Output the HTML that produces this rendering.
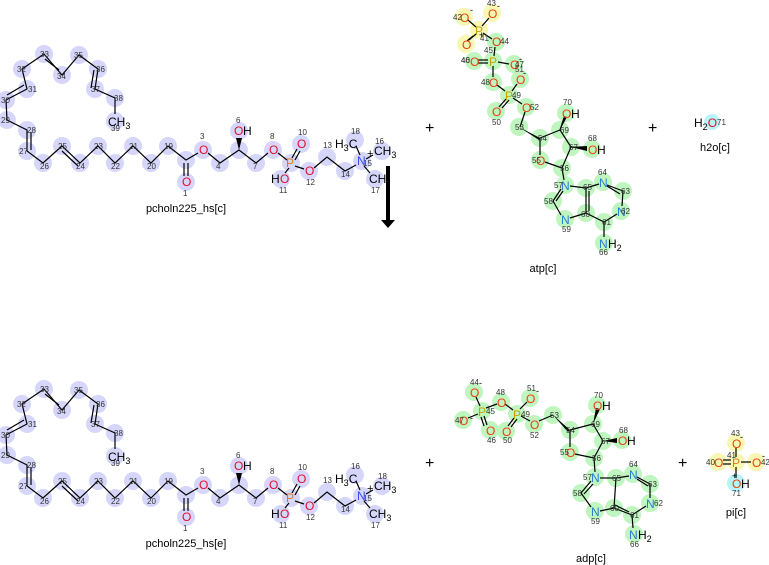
<!DOCTYPE html>
<html><head><meta charset="utf-8"><style>
html,body{margin:0;padding:0;background:#fff;width:769px;height:565px;overflow:hidden}
svg{display:block;font-family:"Liberation Sans","DejaVu Sans",sans-serif}
.n{font-size:8px;fill:#333}
.e{font-size:12px}
.O{fill:#e0102a}.Ob{fill:#e84010}.N{fill:#3050f8}.Nb{fill:#2a7fd0}.P{fill:#e07818}.Pb{fill:#c8a000}
.lbl{font-size:11px;fill:#000}
</style></head><body>
<svg width="769" height="565" viewBox="0 0 769 565" xmlns="http://www.w3.org/2000/svg">
<defs>
<g id="lipc" fill="#d6d6fa">
<circle cx="44" cy="54" r="9"/><circle cx="79" cy="55" r="9"/><circle cx="22" cy="69" r="9"/><circle cx="62" cy="75" r="9"/><circle cx="98" cy="69" r="9"/><circle cx="27" cy="89" r="9"/><circle cx="95" cy="89" r="9"/><circle cx="6" cy="100" r="9"/><circle cx="115" cy="98" r="9"/><circle cx="7" cy="120" r="9"/><circle cx="115" cy="121" r="9"/><circle cx="27" cy="130" r="9"/><circle cx="27" cy="151" r="9"/><circle cx="43" cy="163" r="9"/><circle cx="62" cy="146" r="9"/><circle cx="80" cy="163" r="9"/><circle cx="98" cy="146" r="9"/><circle cx="115" cy="163" r="9"/><circle cx="133" cy="146" r="9"/><circle cx="151" cy="163" r="9"/><circle cx="168" cy="146" r="9"/><circle cx="186" cy="160" r="9"/><circle cx="186" cy="182" r="9"/><circle cx="203" cy="150" r="9"/><circle cx="220" cy="163" r="9"/><circle cx="239" cy="150" r="9"/><circle cx="239" cy="131" r="9"/><circle cx="256" cy="163" r="9"/><circle cx="273" cy="150" r="9"/><circle cx="291" cy="163" r="9"/><circle cx="301" cy="144" r="9"/><circle cx="281" cy="179" r="9"/><circle cx="309" cy="171" r="9"/><circle cx="327" cy="157" r="9"/><circle cx="345" cy="171" r="9"/><circle cx="362" cy="161" r="9"/><circle cx="355" cy="140" r="9"/><circle cx="382" cy="151" r="9"/><circle cx="375" cy="179" r="9"/>
</g>
<g id="lipb" stroke="#000" stroke-width="1.2" fill="none">
<polyline points="115,114 115,98 95,89 98,69 79,55 62,75 44,54 22,69 27,89 6,100 7,120 27,130 27,151 43,163 62,146 80,163 98,146 115,163 133,146 151,163 168,146 186,160 198,153"/>
<polyline points="208,153 220,163 239,150 256,163 268,153"/>
<line x1="278" y1="153" x2="287" y2="160"/><line x1="295" y1="166" x2="304" y2="169"/><polyline points="314,168 327,157 345,171 356,165"/>
<line x1="91" y1="88" x2="94" y2="70"/><line x1="59" y1="70" x2="45" y2="59"/><line x1="24" y1="85" x2="7" y2="95"/><line x1="31" y1="132" x2="31" y2="150"/><line x1="62" y1="151" x2="78" y2="166"/>
<line x1="184" y1="163" x2="184" y2="176"/><line x1="188" y1="163" x2="188" y2="176"/>
<line x1="292" y1="158" x2="297" y2="149"/><line x1="295" y1="160" x2="300" y2="151"/>
<line x1="289" y1="168" x2="285" y2="173"/>
<line x1="360" y1="155" x2="356" y2="146"/><line x1="366" y1="159" x2="373" y2="155"/><line x1="364" y1="166" x2="370" y2="173"/>
</g>
</defs>

<!-- top lipid -->
<use href="#lipc"/><use href="#lipb"/>
<polygon points="239,150 236,138 242,138" fill="#000"/>
<g class="n">
<text x="40" y="57">33</text><text x="74" y="58">35</text><text x="17" y="72">32</text><text x="57" y="79">34</text><text x="96" y="72">36</text><text x="28" y="92">31</text><text x="91" y="92">37</text><text x="1" y="103">30</text><text x="114" y="101">38</text><text x="1" y="123">29</text><text x="111" y="131">39</text><text x="27" y="133">28</text><text x="19" y="154">27</text><text x="40" y="169">26</text><text x="58" y="149">25</text><text x="76" y="169">24</text><text x="94" y="149">23</text><text x="111" y="169">22</text><text x="129" y="149">21</text><text x="147" y="169">20</text><text x="164" y="149">19</text><text x="183" y="196">1</text><text x="200" y="139">3</text><text x="216" y="169">4</text><text x="236" y="123">6</text><text x="253" y="169">7</text><text x="270" y="139">8</text><text x="298" y="135">10</text><text x="279" y="193">11</text><text x="306" y="185">12</text><text x="323" y="148">13</text><text x="341" y="177">14</text><text x="363" y="166">15</text><text x="351" y="134">18</text><text x="375" y="144">16</text><text x="371" y="193">17</text>
</g>
<g class="e">
<text x="108" y="126">CH<tspan font-size="9" dy="3">3</tspan></text>
<text x="182" y="186" class="O">O</text><text x="199" y="154" class="O">O</text>
<text x="234" y="135" class="O">O</text><text x="243" y="135">H</text>
<text x="269" y="154" class="O">O</text><text x="286" y="167" class="P">P</text>
<text x="297" y="148" class="O">O</text><text x="271" y="183">H</text><text x="280" y="183" class="O">O</text>
<text x="305" y="175" class="O">O</text><text x="357" y="165" class="N">N</text>
<text x="335" y="148">H<tspan font-size="9" dy="3">3</tspan><tspan dy="-3">C</tspan></text>
<text x="374" y="155">CH<tspan font-size="9" dy="3">3</tspan></text>
<text x="369" y="183">CH</text><text x="367" y="157" font-size="11">+</text>
</g>
<text x="186" y="212" class="lbl" text-anchor="middle">pcholn225_hs[c]</text>

<!-- bottom lipid -->
<g transform="translate(0,335)">
<use href="#lipc"/><use href="#lipb"/>
<polygon points="239,150 236,138 242,138" fill="#000"/>
<g class="n">
<text x="40" y="57">33</text><text x="74" y="58">35</text><text x="17" y="72">32</text><text x="57" y="79">34</text><text x="96" y="72">36</text><text x="28" y="92">31</text><text x="91" y="92">37</text><text x="1" y="103">30</text><text x="114" y="101">38</text><text x="1" y="123">29</text><text x="111" y="131">39</text><text x="27" y="133">28</text><text x="19" y="154">27</text><text x="40" y="169">26</text><text x="58" y="149">25</text><text x="76" y="169">24</text><text x="94" y="149">23</text><text x="111" y="169">22</text><text x="129" y="149">21</text><text x="147" y="169">20</text><text x="164" y="149">19</text><text x="183" y="196">1</text><text x="200" y="139">3</text><text x="216" y="169">4</text><text x="236" y="123">6</text><text x="253" y="169">7</text><text x="270" y="139">8</text><text x="298" y="135">10</text><text x="279" y="193">11</text><text x="306" y="185">12</text><text x="323" y="148">13</text><text x="341" y="177">14</text><text x="363" y="166">15</text><text x="351" y="134">16</text><text x="378" y="144">18</text><text x="371" y="193">17</text>
</g>
<g class="e">
<text x="108" y="126">CH<tspan font-size="9" dy="3">3</tspan></text>
<text x="182" y="186" class="O">O</text><text x="199" y="154" class="O">O</text>
<text x="234" y="135" class="O">O</text><text x="243" y="135">H</text>
<text x="269" y="154" class="O">O</text><text x="286" y="167" class="P">P</text>
<text x="297" y="148" class="O">O</text><text x="271" y="183">H</text><text x="280" y="183" class="O">O</text>
<text x="305" y="175" class="O">O</text><text x="357" y="165" class="N">N</text>
<text x="335" y="148">H<tspan font-size="9" dy="3">3</tspan><tspan dy="-3">C</tspan></text>
<text x="374" y="155">CH<tspan font-size="9" dy="3">3</tspan></text>
<text x="369" y="183">CH<tspan font-size="9" dy="3">3</tspan></text><text x="367" y="157" font-size="11">+</text>
</g>
<text x="186" y="212" class="lbl" text-anchor="middle">pcholn225_hs[e]</text>
</g>

<!-- arrow -->
<rect x="386" y="166" width="4" height="56" fill="#000"/>
<polygon points="381,220 395,220 388,228" fill="#000"/>

<!-- pluses -->
<g font-size="16" fill="#000"><text x="425" y="133">+</text><text x="648" y="133">+</text><text x="425" y="468">+</text><text x="678" y="468">+</text></g>

<!-- ATP -->
<g fill="#f8f8b4"><circle cx="464" cy="17" r="9"/><circle cx="492" cy="13" r="9"/><circle cx="479" cy="30" r="9"/><circle cx="466" cy="44" r="9"/></g>
<g fill="#bff5bf">
<circle cx="496" cy="42" r="9"/><circle cx="493" cy="61" r="9"/><circle cx="474" cy="61" r="9"/><circle cx="514" cy="64" r="9"/><circle cx="493" cy="82" r="9"/><circle cx="509" cy="95" r="9"/><circle cx="520" cy="79" r="9"/><circle cx="496" cy="111" r="9"/><circle cx="526" cy="107" r="9"/><circle cx="519" cy="127" r="9"/><circle cx="540" cy="138" r="9"/><circle cx="560" cy="130" r="9"/><circle cx="566" cy="113" r="9"/><circle cx="571" cy="147" r="9"/><circle cx="592" cy="149" r="9"/><circle cx="540" cy="160" r="9"/><circle cx="562" cy="168" r="9"/><circle cx="565" cy="185" r="9"/><circle cx="586" cy="188" r="9"/><circle cx="603" cy="182" r="9"/><circle cx="623" cy="191" r="9"/><circle cx="553" cy="201" r="9"/><circle cx="621" cy="211" r="9"/><circle cx="565" cy="219" r="9"/><circle cx="586" cy="213" r="9"/><circle cx="604" cy="222" r="9"/><circle cx="604" cy="243" r="9"/>
</g>
<g stroke="#000" stroke-width="1.2" fill="none">
<line x1="468" y1="20" x2="476" y2="27"/><line x1="489" y1="18" x2="482" y2="26"/><line x1="476" y1="34" x2="469" y2="40"/><line x1="473" y1="36" x2="467" y2="41"/><line x1="483" y1="33" x2="492" y2="39"/>
<line x1="495" y1="47" x2="494" y2="56"/><line x1="478" y1="60" x2="488" y2="60"/><line x1="478" y1="63" x2="488" y2="63"/><line x1="498" y1="62" x2="509" y2="64"/><line x1="493" y1="66" x2="493" y2="77"/>
<line x1="497" y1="85" x2="505" y2="91"/><line x1="512" y1="91" x2="517" y2="84"/><line x1="506" y1="99" x2="499" y2="107"/><line x1="509" y1="100" x2="502" y2="108"/><line x1="513" y1="98" x2="522" y2="104"/>
<line x1="525" y1="112" x2="520" y2="127"/><line x1="540" y1="138" x2="560" y2="130"/><line x1="560" y1="130" x2="564" y2="118"/><line x1="560" y1="130" x2="571" y2="147"/><line x1="571" y1="147" x2="587" y2="148"/><line x1="571" y1="147" x2="562" y2="168"/><line x1="562" y1="168" x2="545" y2="162"/><line x1="540" y1="155" x2="540" y2="138"/>
<line x1="562" y1="168" x2="564" y2="180"/>
<line x1="570" y1="186" x2="586" y2="188"/><line x1="586" y1="188" x2="599" y2="184"/><line x1="607" y1="185" x2="623" y2="191"/><line x1="623" y1="191" x2="622" y2="206"/><line x1="617" y1="214" x2="604" y2="222"/><line x1="604" y1="222" x2="586" y2="213"/><line x1="586" y1="213" x2="586" y2="188"/><line x1="589" y1="211" x2="589" y2="191"/><line x1="586" y1="213" x2="570" y2="218"/><line x1="561" y1="215" x2="553" y2="201"/><line x1="553" y1="201" x2="561" y2="189"/><line x1="556" y1="201" x2="563" y2="191"/><line x1="604" y1="222" x2="604" y2="237"/><line x1="607" y1="186" x2="620" y2="194"/>
</g>
<polygon points="519,127 540,138 539,140" fill="#000"/>
<polygon points="560,130 567,117 564,116" fill="#000"/>
<polygon points="571,147 587,146 587,151" fill="#000"/>
<g class="e">
<text x="460" y="22" class="Ob">O</text><text x="488" y="18" class="Ob">O</text><text x="475" y="35" class="Pb">P</text><text x="462" y="49" class="Ob">O</text>
<text x="492" y="46" class="Ob">O</text><text x="489" y="66" class="Pb">P</text><text x="470" y="66" class="Ob">O</text><text x="510" y="69" class="Ob">O</text><text x="489" y="87" class="Ob">O</text><text x="505" y="100" class="Pb">P</text><text x="516" y="84" class="Ob">O</text><text x="492" y="116" class="Ob">O</text><text x="522" y="112" class="Ob">O</text>
<text x="562" y="118" class="Ob">O</text><text x="571" y="118">H</text><text x="588" y="154" class="Ob">O</text><text x="597" y="154">H</text><text x="536" y="165" class="Ob">O</text>
<text x="561" y="190" class="Nb">N</text><text x="599" y="187" class="Nb">N</text><text x="617" y="216" class="Nb">N</text><text x="561" y="224" class="Nb">N</text>
<text x="599" y="248" class="Nb">N</text><text x="608" y="248">H<tspan font-size="9" dy="3">2</tspan></text>
</g>
<g font-size="9"><text x="470" y="13">-</text><text x="497" y="9">-</text><text x="519" y="62">-</text><text x="523" y="76">-</text><text x="479" y="38">+</text></g>
<g class="n">
<text x="453" y="20">42</text><text x="487" y="6">43</text><text x="480" y="41">41</text><text x="461" y="63">46</text><text x="500" y="44">44</text><text x="484" y="53">45</text><text x="461" y="63">40</text><text x="515" y="67">47</text><text x="515" y="72">51</text><text x="481" y="85">48</text><text x="512" y="98">49</text><text x="492" y="125">50</text><text x="530" y="110">52</text><text x="515" y="130">53</text><text x="538" y="141">54</text><text x="560" y="133">69</text><text x="563" y="105">70</text><text x="569" y="150">67</text><text x="588" y="141">68</text><text x="532" y="163">55</text><text x="560" y="171">56</text><text x="554" y="188">57</text><text x="583" y="190">65</text><text x="598" y="175">64</text><text x="621" y="194">63</text><text x="544" y="204">58</text><text x="621" y="214">62</text><text x="562" y="232">59</text><text x="581" y="217">60</text><text x="602" y="225">61</text><text x="599" y="255">66</text>
</g>
<text x="543" y="272" class="lbl" text-anchor="middle">atp[c]</text>

<!-- H2O -->
<circle cx="712" cy="122" r="8" fill="#b8f3f7"/>
<text x="694" y="127" class="e">H<tspan font-size="9" dy="3">2</tspan><tspan dy="-3" class="O">O</tspan></text>
<text x="717" y="125" class="n">71</text>
<text x="715" y="151" class="lbl" text-anchor="middle">h2o[c]</text>

<!-- ADP -->
<g fill="#bff5bf">
<circle cx="474" cy="392" r="9"/><circle cx="482" cy="411" r="9"/><circle cx="463" cy="420" r="9"/><circle cx="490" cy="430" r="9"/><circle cx="501" cy="402" r="9"/><circle cx="517" cy="414" r="9"/><circle cx="530" cy="398" r="9"/><circle cx="506" cy="431" r="9"/><circle cx="534" cy="424" r="9"/><circle cx="553" cy="415" r="9"/><circle cx="570" cy="430" r="9"/><circle cx="593" cy="424" r="9"/><circle cx="597" cy="405" r="9"/><circle cx="603" cy="441" r="9"/><circle cx="622" cy="440" r="9"/><circle cx="570" cy="452" r="9"/><circle cx="594" cy="458" r="9"/><circle cx="595" cy="477" r="9"/><circle cx="616" cy="478" r="9"/><circle cx="633" cy="474" r="9"/><circle cx="650" cy="484" r="9"/><circle cx="581" cy="493" r="9"/><circle cx="650" cy="503" r="9"/><circle cx="595" cy="511" r="9"/><circle cx="614" cy="508" r="9"/><circle cx="632" cy="515" r="9"/><circle cx="634" cy="534" r="9"/>
</g>
<g stroke="#000" stroke-width="1.2" fill="none">
<line x1="476" y1="397" x2="480" y2="406"/><line x1="468" y1="418" x2="478" y2="414"/><line x1="484" y1="416" x2="487" y2="425"/><line x1="481" y1="417" x2="484" y2="426"/><line x1="486" y1="408" x2="497" y2="404"/><line x1="505" y1="404" x2="513" y2="410"/><line x1="520" y1="409" x2="527" y2="402"/><line x1="514" y1="418" x2="508" y2="426"/><line x1="517" y1="419" x2="511" y2="427"/><line x1="521" y1="416" x2="530" y2="421"/><line x1="539" y1="421" x2="553" y2="415"/>
<line x1="570" y1="430" x2="593" y2="424"/><line x1="593" y1="424" x2="603" y2="441"/><line x1="603" y1="441" x2="594" y2="458"/><line x1="594" y1="458" x2="575" y2="454"/><line x1="570" y1="447" x2="570" y2="430"/><line x1="594" y1="458" x2="595" y2="472"/>
<line x1="600" y1="478" x2="616" y2="478"/><line x1="616" y1="478" x2="629" y2="476"/><line x1="637" y1="477" x2="650" y2="484"/><line x1="637" y1="479" x2="648" y2="486"/><line x1="650" y1="484" x2="650" y2="498"/><line x1="646" y1="506" x2="632" y2="515"/><line x1="632" y1="515" x2="614" y2="508"/><line x1="629" y1="512" x2="615" y2="505"/><line x1="614" y1="508" x2="616" y2="478"/><line x1="614" y1="508" x2="600" y2="511"/><line x1="591" y1="507" x2="581" y2="493"/><line x1="581" y1="493" x2="591" y2="481"/><line x1="584" y1="494" x2="593" y2="484"/><line x1="632" y1="515" x2="633" y2="528"/>
</g>
<polygon points="553,415 570,430 568,432" fill="#000"/>
<polygon points="593,424 600,409 596,408" fill="#000"/>
<polygon points="603,441 617,438 617,443" fill="#000"/>
<g class="e">
<text x="470" y="397" class="Ob">O</text><text x="478" y="416" class="Pb">P</text><text x="459" y="425" class="Ob">O</text><text x="486" y="435" class="Ob">O</text><text x="497" y="407" class="Ob">O</text><text x="513" y="419" class="Pb">P</text><text x="526" y="403" class="Ob">O</text><text x="502" y="436" class="Ob">O</text><text x="530" y="429" class="Ob">O</text>
<text x="593" y="410" class="Ob">O</text><text x="602" y="410">H</text><text x="618" y="445" class="Ob">O</text><text x="627" y="445">H</text><text x="566" y="457" class="Ob">O</text>
<text x="591" y="482" class="Nb">N</text><text x="629" y="479" class="Nb">N</text><text x="646" y="508" class="Nb">N</text><text x="591" y="516" class="Nb">N</text>
<text x="629" y="539" class="Nb">N</text><text x="638" y="539">H<tspan font-size="9" dy="3">2</tspan></text>
</g>
<g font-size="9"><text x="479" y="386">-</text><text x="536" y="394">-</text><text x="470" y="421">-</text></g>
<g class="n">
<text x="470" y="385">44</text><text x="496" y="395">48</text><text x="527" y="391">51</text><text x="455" y="423">47</text><text x="486" y="414">45</text><text x="521" y="417">49</text><text x="487" y="443">46</text><text x="503" y="443">50</text><text x="530" y="438">52</text><text x="550" y="418">53</text><text x="566" y="433">54</text><text x="591" y="427">69</text><text x="594" y="398">70</text><text x="601" y="444">67</text><text x="619" y="433">68</text><text x="560" y="455">55</text><text x="592" y="461">56</text><text x="583" y="480">57</text><text x="612" y="481">65</text><text x="629" y="467">64</text><text x="648" y="487">63</text><text x="573" y="496">58</text><text x="654" y="506">62</text><text x="591" y="524">59</text><text x="610" y="511">60</text><text x="630" y="518">61</text><text x="630" y="547">66</text>
</g>
<text x="591" y="562" class="lbl" text-anchor="middle">adp[c]</text>

<!-- Pi -->
<g fill="#f8f8b4"><circle cx="736" cy="443" r="9"/><circle cx="736" cy="462" r="9"/><circle cx="718" cy="462" r="9"/><circle cx="756" cy="462" r="9"/></g>
<circle cx="736" cy="483" r="9" fill="#b8f3f7"/>
<g stroke="#000" stroke-width="1.2"><line x1="736" y1="448" x2="736" y2="457"/><line x1="723" y1="460" x2="731" y2="460"/><line x1="723" y1="464" x2="731" y2="464"/><line x1="741" y1="462" x2="751" y2="462"/><line x1="736" y1="467" x2="736" y2="478"/></g>
<g class="e">
<text x="732" y="448" class="Ob">O</text><text x="732" y="467" class="P">P</text><text x="714" y="467" class="Ob">O</text><text x="752" y="467" class="Ob">O</text><text x="732" y="488" class="Ob">O</text><text x="741" y="488">H</text>
</g>
<g font-size="9"><text x="740" y="440">-</text><text x="762" y="459">-</text><text x="732" y="479">+</text></g>
<g class="n"><text x="731" y="436">43</text><text x="727" y="458">41</text><text x="706" y="465">40</text><text x="761" y="465">42</text><text x="732" y="496">71</text></g>
<text x="736" y="516" class="lbl" text-anchor="middle">pi[c]</text>
</svg>
</body></html>
